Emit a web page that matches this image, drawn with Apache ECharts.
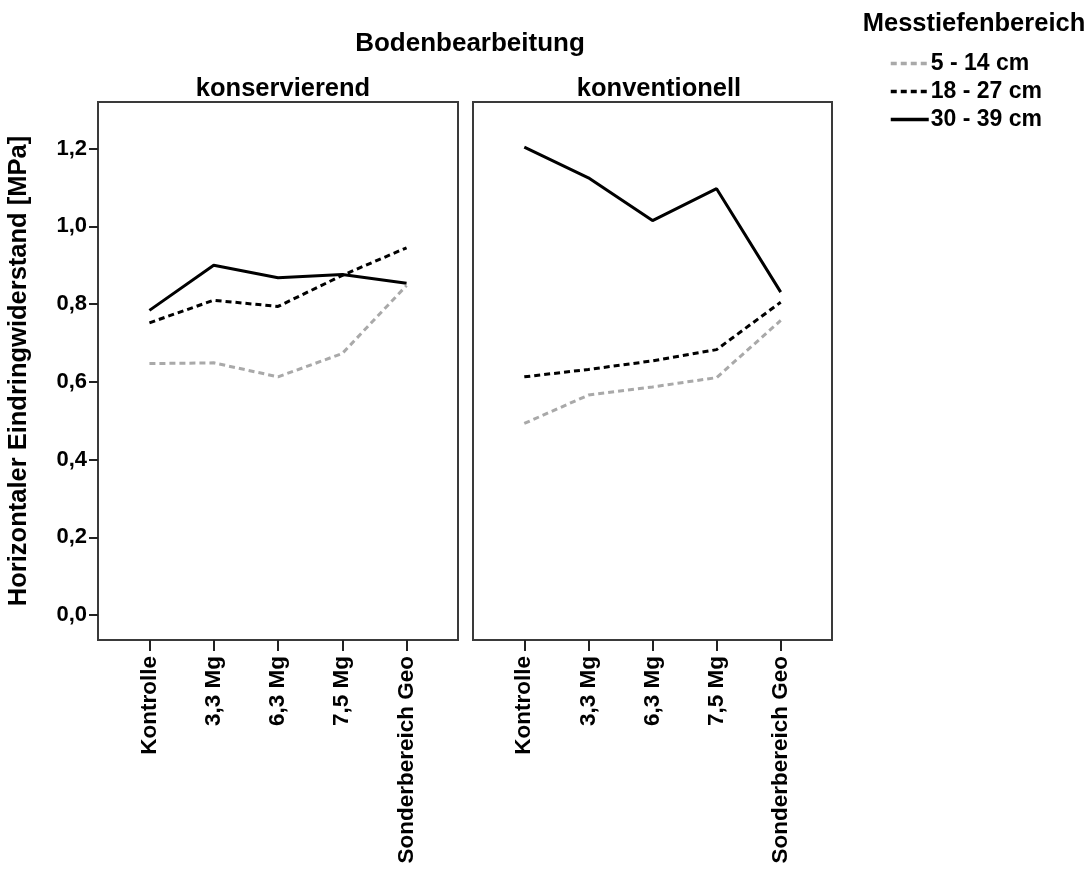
<!DOCTYPE html>
<html>
<head>
<meta charset="utf-8">
<script src="https://cdn.jsdelivr.net/npm/echarts@6/dist/echarts.min.js"></script>
<style>
  html, body { margin: 0; padding: 0; background: #fff; }
  #chart { width: 1091px; height: 870px; }
</style>
</head>
<body>
<div id="chart"></div>
<script>
// Kategorien (Düngungsvarianten) und Panels (Bodenbearbeitung)
const categories = ['Kontrolle', '3,3 Mg', '6,3 Mg', '7,5 Mg', 'Sonderbereich Geo'];
const panels = ['konservierend', 'konventionell'];
const depthNames = ['5 - 14 cm', '18 - 27 cm', '30 - 39 cm'];

// Mittlerer horizontaler Eindringwiderstand [MPa]
const kons_5_14  = [0.647, 0.649, 0.613, 0.673, 0.848];
const kons_18_27 = [0.752, 0.810, 0.794, 0.874, 0.945];
const kons_30_39 = [0.784, 0.900, 0.868, 0.876, 0.854];
const konv_5_14  = [0.493, 0.566, 0.587, 0.611, 0.758];
const konv_18_27 = [0.613, 0.632, 0.654, 0.683, 0.805];
const konv_30_39 = [1.204, 1.125, 1.015, 1.097, 0.831];

const yTicks = [0, 0.2, 0.4, 0.6, 0.8, 1.0, 1.2];

const FONT = '"Liberation Sans", Arial, sans-serif';
const styles = [
  { color: '#a9a9a9', type: [6, 4] },
  { color: '#000000', type: [6, 4] },
  { color: '#000000', type: 'solid' }
];
const panelData = [
  [kons_5_14, kons_18_27, kons_30_39],
  [konv_5_14, konv_18_27, konv_30_39]
];

const catIdx = categories.map((_, i) => i);

const grids = [
  { left: 98, top: 102, width: 360, bottom: 230 },
  { left: 473, top: 102, width: 359, bottom: 230 }
].map(g => Object.assign(g, { show: true, borderColor: '#3a3a3a', borderWidth: 2, containLabel: false }));

const xAxes = grids.map((_, gi) => ({
  type: 'value',
  gridIndex: gi,
  position: 'bottom',
  min: -0.8,
  max: categories.length - 0.2,
  axisLine: { show: false, onZero: false },
  splitLine: { show: false },
  axisTick: { show: true, length: 11, customValues: catIdx, lineStyle: { color: '#222', width: 2 } },
  axisLabel: {
    customValues: catIdx,
    rotate: 90,
    margin: 16,
    fontFamily: FONT,
    fontWeight: 'bold',
    fontSize: 22.5,
    color: '#000',
    formatter: v => categories[Math.round(v)]
  }
}));

const yAxes = grids.map((_, gi) => ({
  type: 'value',
  gridIndex: gi,
  position: 'left',
  min: -0.064,
  max: 1.32,
  axisLine: { show: false, onZero: false },
  splitLine: { show: false },
  name: gi === 0 ? 'Horizontaler Eindringwiderstand [MPa]' : '',
  nameLocation: 'middle',
  nameGap: 66,
  nameTextStyle: { fontFamily: FONT, fontWeight: 'bold', fontSize: 25.5, color: '#000' },
  axisTick: { show: gi === 0, length: 9, customValues: yTicks, lineStyle: { color: '#222', width: 2 } },
  axisLabel: {
    show: gi === 0,
    customValues: yTicks,
    margin: 11,
    fontFamily: FONT,
    fontWeight: 'bold',
    fontSize: 22,
    color: '#000',
    formatter: v => v.toFixed(1).replace('.', ',')
  }
}));

const series = [];
panelData.forEach((sets, pi) => {
  sets.forEach((vals, di) => {
    series.push({
      type: 'line',
      name: depthNames[di],
      xAxisIndex: pi,
      yAxisIndex: pi,
      symbol: 'none',
      silent: true,
      z: 3 - di + 2,
      lineStyle: { color: styles[di].color, type: styles[di].type, width: 3 },
      itemStyle: { color: styles[di].color },
      data: vals.map((v, i) => [i, v])
    });
  });
});

const titles = [
  { text: 'Bodenbearbeitung', left: 465, top: 26, size: 26 },
  { text: panels[0], left: 278, top: 71, size: 25.5 },
  { text: panels[1], left: 654, top: 71, size: 25.5 },
  { text: 'Messtiefenbereich', left: 969, top: 6, size: 25.5 }
].map(t => ({
  text: t.text,
  left: t.left,
  top: t.top,
  textAlign: 'center',
  textStyle: { fontFamily: FONT, fontWeight: 'bold', fontSize: t.size, color: '#000' }
}));

const chart = echarts.init(document.getElementById('chart'), null, { renderer: 'canvas' });
chart.setOption({
  animation: false,
  backgroundColor: '#fff',
  title: titles,
  legend: {
    data: depthNames,
    orient: 'vertical',
    left: 889,
    top: 52,
    padding: 0,
    itemWidth: 38,
    itemHeight: 14,
    itemGap: 5,
    selectedMode: false,
    itemStyle: { opacity: 0 },
    lineStyle: { width: 3.5 },
    textStyle: { fontFamily: FONT, fontWeight: 'bold', fontSize: 23, color: '#000', padding: [0, 0, 0, -3] }
  },
  grid: grids,
  xAxis: xAxes,
  yAxis: yAxes,
  series: series
});
</script>
</body>
</html>
